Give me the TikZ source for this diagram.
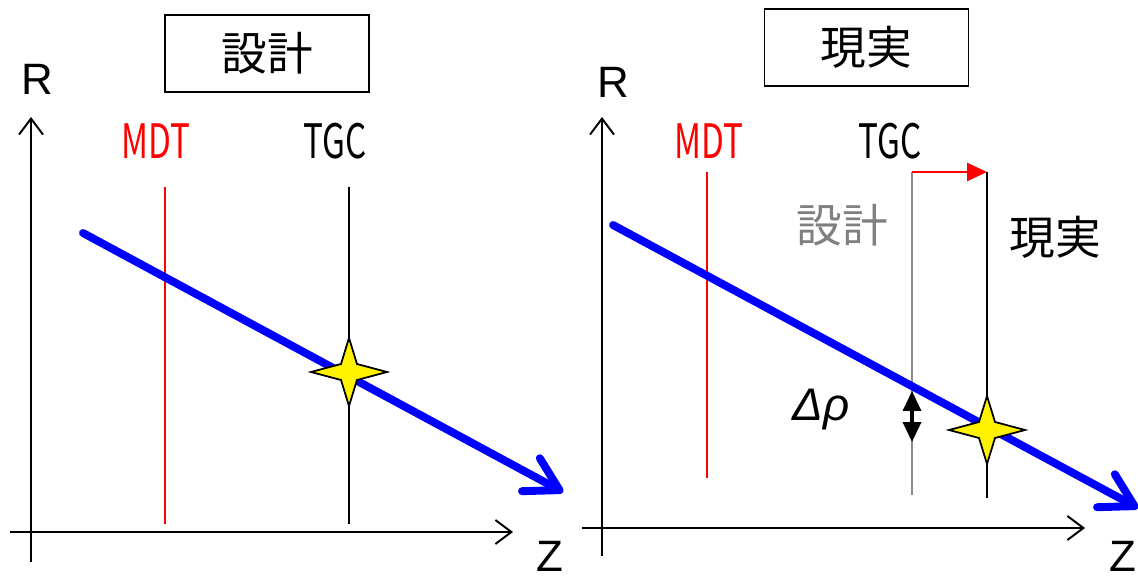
\documentclass[tikz,border=0pt]{standalone}
\usepackage{fontspec}
\setmainfont{Liberation Sans}
\newfontfamily\jpfont{Noto Sans CJK JP}
\newfontfamily\narrowfont[FakeStretch=0.7]{Noto Sans CJK JP}
\usetikzlibrary{arrows.meta}

\begin{document}
\begin{tikzpicture}[
  x=0.02cm, y=-0.02cm,
  font=\fontsize{25}{28}\selectfont,
  title/.style={draw, line width=1pt, minimum width=4.08cm, minimum height=1.54cm, font=\jpfont\fontsize{26}{30}\selectfont},
  jp/.style={font=\jpfont\fontsize{26}{30}\selectfont, inner sep=0pt},
  det/.style={font=\narrowfont\fontsize{27}{30}\selectfont, inner sep=0pt},
  axlbl/.style={inner sep=0pt},
  axis/.style={line width=1.1pt, -{Straight Barb[length=3.2mm,width=4.8mm]}},
  layer/.style={line width=1.1pt},
  track/.style={blue, line width=4.5pt, line cap=round, -{Straight Barb[length=6.5mm,width=7.5mm,round]}},
  hit/.style={draw=black, fill=yellow, line width=1pt},
  hitstar/.pic={\path[hit] (-38,0) -- (-8,-8) -- (0,-34) -- (8,-8) -- (38,0) -- (8,8) -- (0,34) -- (-8,8) -- cycle;}
]
\useasboundingbox (0,0) rectangle (1138,584);

% left: design
\node[title] (designbox) at (267,53.5) {設計};
\node[axlbl] (rL) at (37,79) {R};
\node[axlbl] (zL) at (550,556) {Z};
\coordinate (oL1) at (31,562);
\coordinate (oL2) at (31,117);
\coordinate (oL3) at (10,532);
\coordinate (oL4) at (513,532);
\draw[axis] (oL1) -- (oL2);
\draw[axis] (oL3) -- (oL4);

\node[det, red] (mdtL) at (156,141) {MDT};
\node[det] (tgcL) at (335,141) {TGC};
\coordinate (mdtLtop) at (165,187);
\coordinate (mdtLbot) at (165,524);
\coordinate (tgcLtop) at (349,187);
\coordinate (tgcLbot) at (349,524);
\draw[layer, red] (mdtLtop) -- (mdtLbot);
\draw[layer] (tgcLtop) -- (tgcLbot);

\coordinate (trkL1) at (83,233);
\coordinate (trkL2) at (563,492);
\draw[track] (trkL1) -- (trkL2);
\pic at (349,372) {hitstar};

% right: real
\node[title] (realbox) at (866.5,47.5) {現実};
\node[axlbl] (rR) at (613,82) {R};
\node[axlbl] (zR) at (1123,556) {Z};
\coordinate (oR1) at (602,556);
\coordinate (oR2) at (602,117);
\coordinate (oR3) at (582,528);
\coordinate (oR4) at (1085,528);
\draw[axis] (oR1) -- (oR2);
\draw[axis] (oR3) -- (oR4);

\node[det, red] (mdtR) at (709,141) {MDT};
\node[det] (tgcR) at (890,141) {TGC};
\coordinate (mdtRtop) at (707,172);
\coordinate (mdtRbot) at (707,478);
\coordinate (tgcDtop) at (912,172);
\coordinate (tgcDbot) at (912,495);
\coordinate (tgcRtop) at (987,172);
\coordinate (tgcRbot) at (987,498);
\draw[layer, red] (mdtRtop) -- (mdtRbot);
\draw[line width=1.6pt, gray!90] (tgcDtop) -- (tgcDbot);
\draw[layer] (tgcRtop) -- (tgcRbot);
\draw[red, line width=1.6pt, -{Triangle[length=4mm,width=3.6mm]}] (tgcDtop) -- (tgcRtop);

\node[jp, gray] (designlbl) at (842,225) {設計};
\node[jp] (reallbl) at (1055,237) {現実};

\coordinate (trkR1) at (613,225);
\coordinate (trkR2) at (1138,508);
\draw[track] (trkR1) -- (trkR2);
\pic at (987,430) {hitstar};

\coordinate (shiftA) at (912,391);
\coordinate (shiftB) at (912,442);
\draw[line width=2pt, {Triangle[length=4mm,width=3.6mm]}-{Triangle[length=4mm,width=3.6mm]}] (shiftA) -- (shiftB);
\node[font=\itshape\fontsize{26}{28}\selectfont] (drho) at (821,410) {Δρ};

\end{tikzpicture}
\end{document}
